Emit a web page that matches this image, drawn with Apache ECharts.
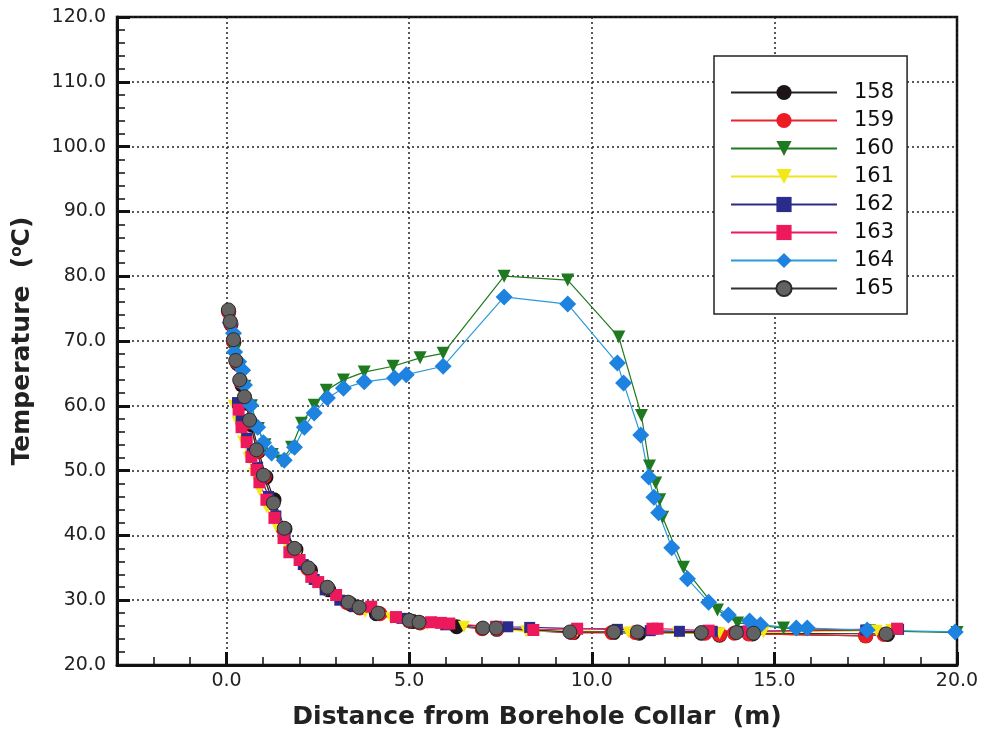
<!DOCTYPE html>
<html>
<head>
<meta charset="utf-8">
<script src="https://cdn.jsdelivr.net/npm/echarts@6/dist/echarts.min.js"></script>
<style>
  html, body { margin: 0; padding: 0; background: #fff; }
  #chart { width: 983px; height: 741px; }
</style>
</head>
<body>
<div id="chart"></div>
<script>
// 坐标轴刻度
var xLabelValues = [0, 5, 10, 15, 20];
var yMin = 20, yMax = 120, yStep = 10;

// 各测点数据 (距离 m / 温度 °C)
var x158 = [0.06, 0.12, 0.2, 0.3, 0.42, 0.55, 0.7, 0.88, 1.08, 1.3, 1.6, 1.9, 2.3, 2.8, 3.4, 4.1, 5.1, 6.3, 7.4, 9.5, 10.6, 11.3, 13.0, 13.5, 14.4, 17.5, 18.1];
var t158 = [74.5, 72.6, 69.8, 66.5, 63.2, 60.4, 57.0, 53.0, 49.0, 45.5, 41.0, 37.8, 34.6, 31.6, 29.4, 27.9, 26.7, 25.9, 25.5, 25.0, 25.0, 24.9, 24.9, 24.6, 24.8, 24.5, 24.7];

var x159 = [0.05, 0.11, 0.18, 0.27, 0.38, 0.5, 0.65, 0.84, 1.03, 1.25, 1.55, 1.85, 2.22, 2.75, 3.3, 3.65, 4.2, 5.0, 5.3, 7.0, 7.4, 9.45, 10.55, 11.2, 13.1, 13.5, 13.9, 14.3, 17.5, 18.0];
var t159 = [74.6, 72.8, 70.0, 66.8, 63.8, 61.2, 57.5, 53.0, 49.1, 45.0, 41.0, 37.9, 34.9, 31.9, 29.6, 28.8, 27.9, 26.8, 26.5, 25.6, 25.6, 25.0, 25.0, 25.0, 24.9, 24.7, 24.9, 24.8, 24.5, 24.7];

var x160 = [0.1, 0.22, 0.35, 0.5, 0.68, 0.87, 1.05, 1.25, 1.5, 1.78, 2.05, 2.4, 2.73, 3.2, 3.77, 4.56, 5.3, 5.93, 7.6, 9.34, 10.74, 11.36, 11.58, 11.75, 11.86, 11.94, 12.51, 13.44, 13.99, 15.25, 17.6, 20.0];
var t160 = [72.5, 68.5, 65.8, 63.0, 60.0, 56.5, 54.0, 52.5, 51.5, 53.6, 57.3, 60.1, 62.4, 64.0, 65.2, 66.1, 67.4, 68.1, 80.0, 79.4, 70.6, 58.5, 50.7, 48.1, 45.5, 42.8, 35.1, 28.5, 26.5, 25.7, 25.3, 25.0];

var x161 = [0.2, 0.3, 0.45, 0.6, 0.75, 0.9, 1.1, 1.35, 1.6, 1.9, 2.25, 2.7, 3.2, 3.8, 4.5, 5.5, 6.5, 8.2, 9.6, 11.0, 12.35, 13.5, 14.7, 17.8, 18.2];
var t161 = [60.0, 57.5, 54.5, 52.0, 49.5, 47.0, 44.3, 41.5, 39.0, 36.6, 34.0, 31.5, 29.7, 28.2, 27.2, 26.3, 25.9, 25.2, 25.3, 25.0, 24.9, 24.9, 25.0, 25.3, 25.4];

var x162 = [0.3, 0.4, 0.55, 0.7, 0.85, 0.95, 1.15, 1.35, 1.6, 1.8, 2.1, 2.4, 2.7, 3.1, 3.5, 4.1, 4.8, 6.0, 7.7, 8.3, 9.6, 10.7, 11.6, 12.4, 13.3, 14.2, 17.5, 18.4];
var t162 = [60.5, 57.8, 55.0, 52.8, 50.5, 48.8, 46.0, 43.0, 40.0, 37.8, 35.5, 33.2, 31.6, 30.0, 29.0, 28.0, 27.2, 26.2, 25.9, 25.8, 25.6, 25.5, 25.3, 25.2, 25.2, 25.2, 25.4, 25.5];

var x163 = [0.33, 0.41, 0.55, 0.68, 0.82, 0.9, 1.09, 1.31, 1.56, 1.72, 2.0, 2.32, 2.51, 3.0, 3.33, 3.96, 4.64, 5.6, 5.87, 6.1, 7.38, 8.4, 9.6, 11.66, 11.8, 13.2, 14.3, 18.36];
var t163 = [59.4, 56.7, 54.4, 52.1, 50.1, 48.2, 45.5, 42.7, 39.6, 37.4, 36.2, 33.6, 32.8, 30.8, 29.6, 29.0, 27.4, 26.6, 26.5, 26.4, 25.9, 25.4, 25.6, 25.6, 25.6, 25.3, 25.2, 25.6];

var x164 = [0.1, 0.19, 0.22, 0.33, 0.44, 0.49, 0.66, 0.85, 1.01, 1.23, 1.58, 1.86, 2.13, 2.4, 2.76, 3.2, 3.77, 4.6, 4.92, 5.93, 7.6, 9.34, 10.7, 10.87, 11.34, 11.56, 11.7, 11.83, 12.19, 12.62, 13.2, 13.74, 14.32, 14.62, 15.6, 15.9, 17.54, 19.95];
var t164 = [72.8, 71.2, 68.3, 66.8, 65.5, 63.2, 60.1, 56.7, 54.3, 52.7, 51.6, 53.6, 56.7, 58.9, 61.2, 62.7, 63.7, 64.3, 64.8, 66.1, 76.8, 75.7, 66.6, 63.5, 55.5, 49.0, 45.9, 43.5, 38.1, 33.3, 29.7, 27.7, 26.8, 26.2, 25.7, 25.7, 25.4, 25.1];

var x165 = [0.05, 0.1, 0.19, 0.25, 0.36, 0.49, 0.63, 0.82, 1.01, 1.28, 1.58, 1.86, 2.24, 2.76, 3.33, 3.63, 4.15, 5.0, 5.27, 7.02, 7.38, 9.4, 10.6, 11.25, 13.0, 13.96, 14.43, 18.06];
var t165 = [74.8, 73.0, 70.2, 67.0, 64.0, 61.4, 57.8, 53.2, 49.3, 45.0, 41.1, 38.0, 35.0, 32.0, 29.7, 28.9, 28.0, 26.9, 26.6, 25.7, 25.7, 25.1, 25.1, 25.1, 25.0, 25.0, 24.9, 24.8];

function zip(xs, ys) {
  return xs.map(function (x, i) { return [x, ys[i]]; });
}

// 系列样式
function makeSeries(name, xs, ys, symbol, size, fill, line, border) {
  return {
    name: name,
    type: "line",
    data: zip(xs, ys),
    symbol: symbol,
    symbolSize: size,
    showAllSymbol: true,
    lineStyle: { color: line, width: 1.2 },
    itemStyle: { color: fill, borderColor: border || fill, borderWidth: border ? 1 : 0 },
    z: 3,
  };
}

var myChart = echarts.init(document.getElementById("chart"));
var option = {
  animation: false,
  backgroundColor: "#fff",
  textStyle: { fontFamily: "DejaVu Sans, sans-serif" },
  grid: {
    left: 117,
    right: 26,
    top: 17,
    bottom: 76,
    show: true,
    borderColor: "#111",
    borderWidth: 2.5,
  },
  legend: {
    orient: "vertical",
    left: 714,
    top: 56,
    padding: [26, 13, 15, 16],
    itemWidth: 106,
    itemHeight: 19,
    itemGap: 7,
    borderColor: "#222",
    borderWidth: 1.5,
    backgroundColor: "#fff",
    textStyle: { fontSize: 21, color: "#111", padding: [0, 0, 0, 12] },
    data: ["158", "159", "160", "161", "162", "163", "164", "165"],
  },
  xAxis: [
    {
      type: "value",
      min: -3,
      max: 20,
      name: "Distance from Borehole Collar  (m)",
      nameLocation: "middle",
      nameGap: 40,
      nameTextStyle: { fontSize: 25, fontWeight: "bold", color: "#222" },
      axisLine: { show: true, onZero: false, lineStyle: { color: "#111", width: 3 } },
      axisTick: {
        show: true,
        inside: true,
        length: 13,
        lineStyle: { color: "#111", width: 3 },
        customValues: xLabelValues,
      },
      axisLabel: {
        fontSize: 19,
        color: "#222",
        margin: 7,
        customValues: xLabelValues,
        formatter: function (v) { return v.toFixed(1); },
      },
      splitLine: {
        show: true,
        lineStyle: { color: "#222", type: [2, 3], width: 1.5 },
      },
    },
    {
      // 次刻度
      type: "value",
      min: -3,
      max: 20,
      interval: 1,
      position: "bottom",
      axisLine: { show: false, onZero: false },
      axisTick: { show: true, inside: true, length: 8, lineStyle: { color: "#111", width: 1.5 } },
      axisLabel: { show: false },
      splitLine: { show: false },
    },
  ],
  yAxis: {
    type: "value",
    min: yMin,
    max: yMax,
    interval: yStep,
    name: "Temperature  ({sup|o}C)",
    nameLocation: "middle",
    nameGap: 82,
    nameTextStyle: {
      fontSize: 25,
      fontWeight: "bold",
      color: "#222",
      rich: {
        sup: { fontSize: 15, fontWeight: "bold", color: "#222", verticalAlign: "top", padding: [0, 0, 10, 0] },
      },
    },
    axisLine: { show: true, onZero: false, lineStyle: { color: "#111", width: 3 } },
    axisTick: { show: true, inside: true, length: 13, lineStyle: { color: "#111", width: 3 } },
    minorTick: { show: true, splitNumber: 5, length: 8, lineStyle: { color: "#111", width: 1.5 } },
    axisLabel: {
      fontSize: 19,
      color: "#222",
      margin: 11,
      formatter: function (v) { return v.toFixed(1); },
    },
    splitLine: {
      show: true,
      lineStyle: { color: "#222", type: [2, 3], width: 1.5 },
    },
  },
  series: [
    makeSeries("158", x158, t158, "circle", 15, "#1c1418", "#222"),
    makeSeries("159", x159, t159, "circle", 15, "#ec1c24", "#e8242c"),
    makeSeries("160", x160, t160, "triangle", 13, "#1f7a1f", "#1f7a1f"),
    makeSeries("161", x161, t161, "triangle", 12, "#f4e816", "#f0e41c"),
    makeSeries("162", x162, t162, "rect", 11, "#2b2b8c", "#2b2b8c"),
    makeSeries("163", x163, t163, "rect", 12, "#ec1a5c", "#ec1a5c"),
    makeSeries("164", x164, t164, "diamond", 17, "#1e82e0", "#2a9ad8"),
    makeSeries("165", x165, t165, "circle", 14, "#626262", "#333", "#2a2a2a"),
  ],
};
// 三角形朝下
option.series[2].symbolRotate = 180;
option.series[3].symbolRotate = 180;

option && myChart.setOption(option);
window.addEventListener("resize", function () {
  myChart.resize();
});
</script>
</body>
</html>
